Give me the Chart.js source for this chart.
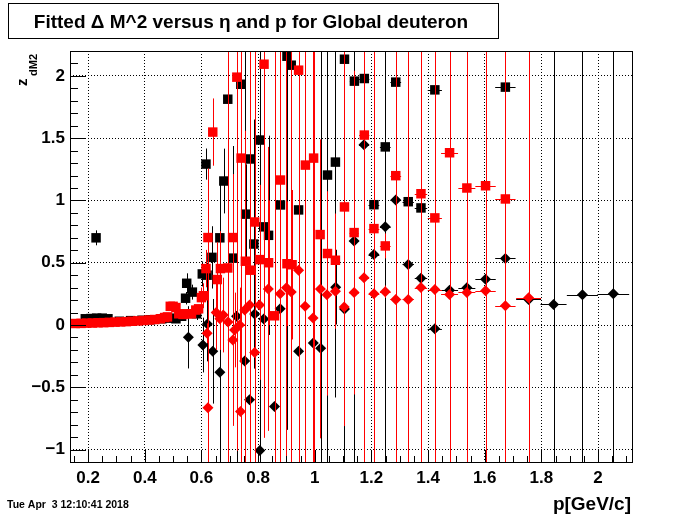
<!DOCTYPE html>
<html>
  <head>
    <meta charset="utf-8"/>
    <style>
      body { margin: 0; background: #fff; }
      #holder { width: 700px; height: 514px; }
    </style>
  </head>
  <body>
    <div id="holder">
        <canvas id="chart-area" width="700" height="514"></canvas>
    </div>

    <script src="https://cdnjs.cloudflare.com/ajax/libs/Chart.js/4.4.1/chart.umd.min.js"></script>
    <script>
        // axis ticks (major) and their labels
        var xTickVals = [0.2, 0.4, 0.6, 0.8, 1, 1.2, 1.4, 1.6, 1.8, 2];
        var xTickLabels = ['0.2', '0.4', '0.6', '0.8', '1', '1.2', '1.4', '1.6', '1.8', '2'];
        var yTickVals = [-1, -0.5, 0, 0.5, 1, 1.5, 2];
        var yTickLabels = ['\u22121', '\u22120.5', '0', '0.5', '1', '1.5', '2'];

        // black squares
        var blackSqP = [0.19, 0.21, 0.23, 0.25, 0.27, 0.31, 0.35, 0.39, 0.42, 0.46, 0.49, 0.51, 0.53,
                        0.228, 0.544, 0.548, 0.568, 0.583, 0.603, 0.62, 0.616, 0.637, 0.665, 0.679, 0.693,
                        0.712, 0.739, 0.756, 0.77, 0.785, 0.805, 0.82, 0.837, 0.879, 0.902, 0.917, 0.943,
                        1.045, 1.073, 1.105, 1.14, 1.175, 1.209, 1.249, 1.286, 1.33, 1.375, 1.424, 1.673];
        var blackSqZ = [0.05, 0.052, 0.055, 0.055, 0.05, 0.03, 0.035, 0.038, 0.042, 0.05, 0.055, 0.05, 0.07,
                        0.70, 0.215, 0.335, 0.264, 0.09, 0.41, 0.40, 1.292, 0.543, 0.70, 1.156, 1.813,
                        0.537, 1.933, 0.89, 1.333, 0.65, 1.485, 0.788, 0.72, 0.964, 2.158, 2.086, 0.924,
                        1.204, 1.308, 2.134, 1.958, 1.979, 0.966, 1.43, 1.95, 0.99, 0.94, 1.888, 1.91];
        var blackSqEz = [0.01, 0.01, 0.01, 0.01, 0.01, 0.01, 0.01, 0.01, 0.01, 0.01, 0.01, 0.01, 0.01,
                         0.06, 0.05, 0.08, 0.06, 0.05, 0.1, 0.1, 0.125, 0.25, 0.45, 0.26, 3,
                         0.9, 0.3, 0.4, 3, 1.0, 3, 1.33, 0.8, 1.37, 3, 3, 3,
                         3, 1.89, 3, 3, 3, 3, 3, 3, 3, 3, 3, 3];
        var blackSqEp = [0.005, 0.005, 0.005, 0.005, 0.005, 0.005, 0.005, 0.005, 0.005, 0.005, 0.005, 0.005, 0.005,
                         0.005, 0.005, 0.005, 0.005, 0.005, 0.006, 0.006, 0.006, 0.006, 0.007, 0.007, 0.007,
                         0.007, 0.008, 0.008, 0.008, 0.008, 0.009, 0.009, 0.009, 0.01, 0.01, 0.01, 0.011,
                         0.013, 0.014, 0.015, 0.016, 0.018, 0.019, 0.019, 0.019, 0.02, 0.022, 0.025, 0.036];

        // black diamonds
        var blackDiaP = [0.554, 0.605, 0.621, 0.64, 0.665, 0.724, 0.753, 0.77, 0.788, 0.806, 0.82, 0.858,
                         0.878, 0.943, 0.995, 1.021, 1.074, 1.105, 1.139, 1.174, 1.209, 1.249, 1.286, 1.33,
                         1.375, 1.424, 1.476, 1.537, 1.603, 1.673, 1.755, 1.843, 1.945, 2.054];
        var blackDiaZ = [-0.099, -0.161, 0.008, -0.211, -0.379, 0.071, -0.29, -0.6, 0.088, -1.007, 0.048, -0.655,
                         0.13, -0.211, -0.144, -0.186, 0.304, 0.128, 0.675, 1.447, 0.566, 0.788, 1.004, 0.486,
                         0.375, -0.03, 0.28, 0.30, 0.368, 0.534, 0.205, 0.165, 0.243, 0.251];
        var blackDiaEz = [0.25, 0.22, 0.3, 0.42, 1.54, 3, 3, 3, 3, 3, 0.59, 0.6,
                          0.3, 3, 3, 3, 0.3, 3, 3, 3, 3, 3, 3, 3,
                          3, 3, 3, 3, 3, 3, 3, 3, 3, 3];
        var blackDiaEp = [0.005, 0.006, 0.006, 0.006, 0.007, 0.007, 0.008, 0.008, 0.008, 0.009, 0.009, 0.009,
                          0.01, 0.011, 0.012, 0.013, 0.014, 0.015, 0.016, 0.018, 0.019, 0.019, 0.019, 0.02,
                          0.022, 0.025, 0.03, 0.03, 0.036, 0.036, 0.044, 0.046, 0.055, 0.056];

        // red squares
        var redSqP = [0.155, 0.175, 0.195, 0.215, 0.235, 0.255, 0.275, 0.295, 0.315, 0.335, 0.355, 0.375,
                      0.395, 0.415, 0.435, 0.455, 0.47, 0.48, 0.49, 0.50, 0.51, 0.52, 0.535, 0.55, 0.565,
                      0.58, 0.59, 0.6, 0.607, 0.616, 0.623, 0.64, 0.656, 0.667, 0.693, 0.71, 0.725, 0.74,
                      0.755, 0.773, 0.788, 0.805, 0.821, 0.837, 0.858, 0.879, 0.902, 0.92, 0.943, 0.967,
                      0.996, 1.019, 1.045, 1.073, 1.105, 1.139, 1.175, 1.209, 1.249, 1.286, 1.375, 1.424,
                      1.476, 1.537, 1.603, 1.673];
        var redSqZ = [0.012, 0.013, 0.015, 0.016, 0.018, 0.019, 0.021, 0.023, 0.025, 0.027, 0.03, 0.033,
                      0.036, 0.04, 0.044, 0.05, 0.06, 0.065, 0.15, 0.15, 0.14, 0.09, 0.085, 0.09, 0.09,
                      0.12, 0.13, 0.22, 0.235, 0.453, 0.702, 1.549, 0.365, 0.453, 0.458, 0.702, 1.99, 1.34,
                      0.512, 0.44, 0.827, 0.525, 2.094, 0.5, 0.074, 1.164, 0.492, 0.484, 2.046, 1.284,
                      1.34, 0.726, 0.574, 0.52, 0.948, 0.742, 1.525, 0.774, 0.635, 1.199, 1.054, 0.86,
                      1.383, 1.10, 1.118, 1.012];
        var redSqEz = [0.005, 0.005, 0.005, 0.005, 0.005, 0.005, 0.005, 0.005, 0.005, 0.005, 0.005, 0.005,
                       0.005, 0.006, 0.006, 0.006, 0.007, 0.007, 0.01, 0.01, 0.01, 0.01, 0.012, 0.012, 0.015,
                       0.02, 0.02, 0.08, 0.1, 0.15, 0.5, 0.27, 0.3, 0.3, 3, 0.51, 3, 3,
                       0.5, 0.6, 3, 0.6, 3, 0.5, 3, 3, 0.5, 0.6, 3, 3,
                       3, 0.5, 0.5, 0.375, 1.76, 1.3, 3, 3, 0.1, 3, 3, 3,
                       3, 3, 3, 3];
        var redSqEp = [0.004, 0.004, 0.004, 0.004, 0.004, 0.004, 0.004, 0.004, 0.004, 0.004, 0.004, 0.004,
                       0.004, 0.004, 0.004, 0.004, 0.005, 0.005, 0.005, 0.005, 0.005, 0.005, 0.005, 0.005, 0.005,
                       0.005, 0.005, 0.006, 0.006, 0.006, 0.006, 0.006, 0.007, 0.007, 0.007, 0.007, 0.008, 0.008,
                       0.008, 0.008, 0.008, 0.009, 0.009, 0.009, 0.009, 0.01, 0.01, 0.01, 0.011, 0.011,
                       0.012, 0.013, 0.013, 0.014, 0.015, 0.016, 0.018, 0.019, 0.019, 0.019, 0.022, 0.025,
                       0.03, 0.03, 0.036, 0.036];

        // red diamonds
        var redDiaP = [0.62, 0.623, 0.652, 0.665, 0.677, 0.694, 0.711, 0.717, 0.735, 0.738, 0.753, 0.77,
                       0.788, 0.805, 0.836, 0.878, 0.9, 0.917, 0.943, 0.966, 0.994, 1.02, 1.043, 1.073,
                       1.104, 1.139, 1.174, 1.209, 1.249, 1.286, 1.33, 1.375, 1.424, 1.476, 1.537, 1.603,
                       1.673, 1.755];
        var redDiaZ = [-0.066, -0.664, 0.1, 0.05, 0.08, 0.024, -0.12, -0.04, 0.0, -0.695, 0.12, 0.16,
                       -0.22, 0.16, 0.29, 0.25, 0.3, 0.265, 0.44, 0.15, 0.056, 0.29, 0.243, 0.27,
                       0.144, 0.26, 0.38, 0.251, 0.267, 0.205, 0.205, 0.301, 0.285, 0.245, 0.261, 0.275,
                       0.155, 0.219];
        var redDiaEz = [0.08, 1.92, 0.3, 0.25, 0.3, 0.3, 0.69, 0.3, 0.3, 3, 1.44, 3,
                        3, 0.6, 1.14, 0.8, 3, 3, 3, 3, 3, 1.2, 0.81, 0.3,
                        0.95, 0.3, 3, 3, 0.05, 3, 3, 3, 3, 3, 3, 3,
                        3, 3];
        var redDiaEp = [0.006, 0.006, 0.006, 0.007, 0.007, 0.007, 0.007, 0.007, 0.008, 0.008, 0.008, 0.008,
                        0.008, 0.009, 0.009, 0.01, 0.01, 0.01, 0.011, 0.011, 0.012, 0.013, 0.013, 0.014,
                        0.015, 0.016, 0.018, 0.019, 0.019, 0.019, 0.02, 0.022, 0.025, 0.03, 0.03, 0.036,
                        0.036, 0.044];

        var toPoints = function(ps, zs) {
            var out = [];
            for (var i = 0; i < ps.length; i++) {
                out.push({x: ps[i], y: zs[i]});
            }
            return out;
        };

        var FONT = '"Liberation Sans", Arial, Helvetica, sans-serif';

        // error bars, inward ticks, frame and the ROOT style texts
        var rootDecor = {
            id: 'rootDecor',
            beforeDatasetDraw: function(chart, args) {
                var ds = chart.data.datasets[args.index];
                var xs = chart.scales.x, ys = chart.scales.y;
                var a = chart.chartArea;
                var ctx = chart.ctx;
                ctx.save();
                ctx.beginPath();
                ctx.rect(a.left, a.top, a.right - a.left, a.bottom - a.top);
                ctx.clip();
                ctx.strokeStyle = ds.backgroundColor;
                ctx.lineWidth = 1;
                ctx.beginPath();
                for (var i = 0; i < ds.data.length; i++) {
                    var pt = ds.data[i];
                    var cx = Math.round(xs.getPixelForValue(pt.x)) + 0.5;
                    var cy = Math.round(ys.getPixelForValue(pt.y)) + 0.5;
                    ctx.moveTo(cx, ys.getPixelForValue(pt.y + ds.errZ[i]));
                    ctx.lineTo(cx, ys.getPixelForValue(pt.y - ds.errZ[i]));
                    ctx.moveTo(xs.getPixelForValue(pt.x - ds.errP[i]), cy);
                    ctx.lineTo(xs.getPixelForValue(pt.x + ds.errP[i]), cy);
                }
                ctx.stroke();
                ctx.restore();
            },
            afterDraw: function(chart) {
                var ctx = chart.ctx;
                var xs = chart.scales.x, ys = chart.scales.y;
                var a = chart.chartArea;
                var v, p, major, len;
                ctx.save();
                ctx.strokeStyle = '#000';
                ctx.lineWidth = 1;
                ctx.beginPath();
                // x ticks: major 0.2, minor 0.05
                for (var k = 3; k <= 42; k++) {
                    v = k * 0.05;
                    if (v < xs.min || v > xs.max) continue;
                    p = Math.round(xs.getPixelForValue(v)) + 0.5;
                    major = (k % 4 === 0);
                    len = major ? 12 : 6;
                    ctx.moveTo(p, a.bottom);
                    ctx.lineTo(p, a.bottom - len);
                }
                // y ticks: major 0.5, minor 0.1
                for (var j = -11; j <= 22; j++) {
                    v = j * 0.1;
                    if (v < ys.min - 1e-9 || v > ys.max + 1e-9) continue;
                    p = Math.round(ys.getPixelForValue(v)) + 0.5;
                    major = (j % 5 === 0);
                    len = major ? 16 : 8;
                    ctx.moveTo(a.left, p);
                    ctx.lineTo(a.left + len, p);
                }
                ctx.stroke();
                // frame
                ctx.strokeRect(Math.round(a.left) + 0.5, Math.round(a.top) + 0.5,
                               Math.round(a.right - a.left), Math.round(a.bottom - a.top));

                // title box
                ctx.fillStyle = '#fff';
                ctx.fillRect(8.5, 3.5, 490, 35);
                ctx.strokeRect(8.5, 3.5, 490, 35);
                ctx.fillStyle = '#000';
                ctx.textBaseline = 'alphabetic';
                ctx.textAlign = 'center';
                ctx.font = 'bold 19px ' + FONT;
                ctx.fillText('Fitted \u0394 M^2 versus \u03b7 and p for Global deuteron', 251, 28);

                // x axis title
                ctx.textAlign = 'right';
                ctx.font = 'bold 19px ' + FONT;
                ctx.fillText('p[GeV/c]', 631, 510);

                // date
                ctx.textAlign = 'left';
                ctx.font = 'bold 10.5px ' + FONT;
                ctx.fillText('Tue Apr  3 12:10:41 2018', 7, 508);

                // y axis title z_dM2, rotated
                ctx.translate(27, 86);
                ctx.rotate(-Math.PI / 2);
                ctx.textAlign = 'left';
                ctx.font = 'bold 15px ' + FONT;
                ctx.fillText('z', 0, 0);
                ctx.font = 'bold 11px ' + FONT;
                ctx.fillText('dM2', 10, 10);
                ctx.restore();
            }
        };

        // Chart.js paints dataset 0 last, so the red series come first to sit on top
        var ctx = document.getElementById('chart-area').getContext('2d');
        var chart = new Chart(ctx, {
            type: 'scatter',
            data: {
                datasets: [{
                    label: 'redDiamonds',
                    data: toPoints(redDiaP, redDiaZ),
                    errZ: redDiaEz, errP: redDiaEp,
                    backgroundColor: '#ff0000',
                    pointStyle: 'rectRot', pointRadius: 5.5, borderWidth: 0
                }, {
                    label: 'redSquares',
                    data: toPoints(redSqP, redSqZ),
                    errZ: redSqEz, errP: redSqEp,
                    backgroundColor: '#ff0000',
                    pointStyle: 'rect', pointRadius: 6.7, borderWidth: 0
                }, {
                    label: 'blackDiamonds',
                    data: toPoints(blackDiaP, blackDiaZ),
                    errZ: blackDiaEz, errP: blackDiaEp,
                    backgroundColor: '#000000',
                    pointStyle: 'rectRot', pointRadius: 5.5, borderWidth: 0
                }, {
                    label: 'blackSquares',
                    data: toPoints(blackSqP, blackSqZ),
                    errZ: blackSqEz, errP: blackSqEp,
                    backgroundColor: '#000000',
                    pointStyle: 'rect', pointRadius: 6.7, borderWidth: 0
                }]
            },
            options: {
                responsive: false,
                animation: false,
                events: [],
                clip: 0,
                layout: { padding: { top: 51, right: 68, left: 0, bottom: 0 }, autoPadding: false },
                plugins: { legend: { display: false }, tooltip: { enabled: false } },
                scales: {
                    x: {
                        type: 'linear', min: 0.136, max: 2.12,
                        afterBuildTicks: function(s) { s.ticks = xTickVals.map(function(v) { return {value: v}; }); },
                        afterFit: function(s) { s.height = 52; },
                        ticks: {
                            autoSkip: false, maxRotation: 0, padding: 6, color: '#000',
                            font: { family: FONT, weight: 'bold', size: 17 },
                            callback: function(v) { return xTickLabels[xTickVals.indexOf(v)]; }
                        },
                        grid: { color: '#000', lineWidth: 1, drawTicks: false },
                        border: { display: false, dash: [1, 2] }
                    },
                    y: {
                        type: 'linear', min: -1.1, max: 2.2,
                        afterBuildTicks: function(s) { s.ticks = yTickVals.map(function(v) { return {value: v}; }); },
                        afterFit: function(s) { s.width = 70; },
                        ticks: {
                            autoSkip: false, padding: 5, color: '#000',
                            font: { family: FONT, weight: 'bold', size: 17 },
                            callback: function(v) { return yTickLabels[yTickVals.indexOf(v)]; }
                        },
                        grid: { color: '#000', lineWidth: 1, drawTicks: false },
                        border: { display: false, dash: [1, 2] }
                    }
                }
            },
            plugins: [rootDecor]
        });
    </script>
    </body>
</html>
